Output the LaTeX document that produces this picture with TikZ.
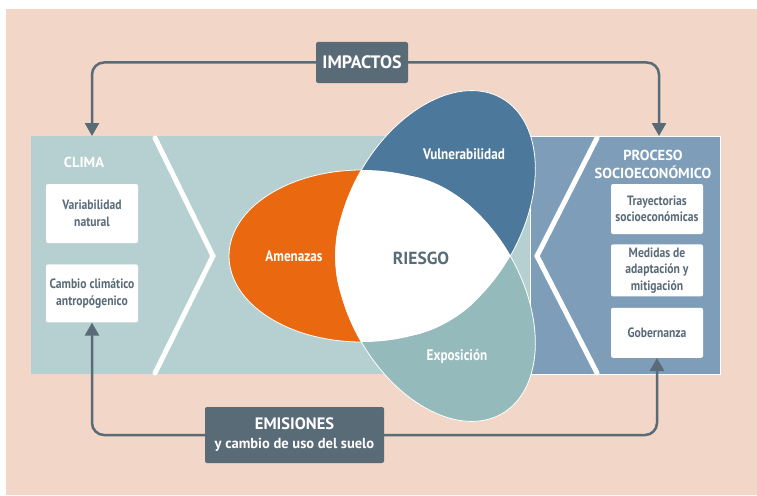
\documentclass[tikz,border=0pt]{standalone}
\usepackage{fontspec}
\setmainfont{PT Sans}
\newfontfamily\narrowfont{PT Sans}[FakeStretch=0.86]
\usetikzlibrary{positioning, arrows.meta}
\definecolor{rosa}{RGB}{242,214,200}
\definecolor{verdeclaro}{RGB}{182,208,210}
\definecolor{azulacero}{RGB}{125,157,184}
\definecolor{naranja}{RGB}{233,104,16}
\definecolor{azuloscuro}{RGB}{76,121,155}
\definecolor{verdeazul}{RGB}{148,186,188}
\definecolor{pizarra}{RGB}{90,107,120}

\begin{document}
\begin{tikzpicture}[x=1pt, y=-1pt,
    caja/.style={fill=white, rounded corners=2pt, minimum width=92pt, align=center, text=pizarra, inner sep=2pt, font=\narrowfont\bfseries\fontsize{13.5}{16.5}\selectfont},
    rotulo/.style={fill=pizarra, rounded corners=2pt, align=center, text=white, inner sep=2pt},
    flujo/.style={draw=pizarra, line width=2.5pt, rounded corners=12pt, -{Triangle[width=14pt,length=13pt]}},
    titulo/.style={text=white, align=center, font=\bfseries\fontsize{14.5}{18}\selectfont},
    hoja/.style={text=white, font=\narrowfont\bfseries\fontsize{15.3}{17}\selectfont}]
\useasboundingbox (0,0) rectangle (757,495);
\fill[rosa] (6,9) rectangle (757,495);

% paneles
\fill[verdeclaro] (31,136) rectangle (532,374);
\filldraw[fill=azulacero, draw=white, line width=0.8pt] (530,136) rectangle (720,374);
\draw[white, line width=5pt, line cap=round] (155,138) -- (213,256) -- (155,373);
\draw[white, line width=5pt, line cap=round] (597,138) -- (537,256) -- (597,373);

% petalos
\coordinate (centro) at (411,256);
\filldraw[fill=naranja, draw=white, line width=0.8pt] (362,256) ellipse [x radius=133, y radius=86];
\filldraw[fill=azuloscuro, draw=white, line width=0.8pt, rotate around={-120:(centro)}] (362,256) ellipse [x radius=133, y radius=86];
\filldraw[fill=verdeazul, draw=white, line width=0.8pt, rotate around={120:(centro)}] (362,256) ellipse [x radius=133, y radius=86];
\begin{scope}
  \clip (362,256) ellipse [x radius=133, y radius=86];
  \fill[white, rotate around={-120:(centro)}] (362,256) ellipse [x radius=133, y radius=86];
  \fill[white, rotate around={120:(centro)}] (362,256) ellipse [x radius=133, y radius=86];
\end{scope}
\begin{scope}
  \clip[rotate around={-120:(centro)}] (362,256) ellipse [x radius=133, y radius=86];
  \fill[white, rotate around={120:(centro)}] (362,256) ellipse [x radius=133, y radius=86];
\end{scope}

\node (amenazas) at (294,256) [hoja] {Amenazas};
\node (vulnerab) at (464,154) [hoja] {Vulnerabilidad};
\node (exposic) at (457,357) [hoja] {Exposición};
\node (riesgo) at (421,258) [text=pizarra, font=\bfseries\fontsize{17.5}{20}\selectfont] {RIESGO};

% clima
\node (clima) at (84,162) [titulo] {CLIMA};
\node (variab) at (92,213.5) [caja, minimum height=59pt] {Variabilidad\\natural};
\node (cambio) [caja, minimum height=58pt, below=21pt of variab] {Cambio climático\\antropógenico};

% proceso socioeconomico
\node (proceso) at (653,164) [titulo] {PROCESO\\SOCIOECONÓMICO};
\node (trayect) at (657,209) [caja, minimum height=50pt] {Trayectorias\\socioeconómicas};
\node (medidas) [caja, minimum height=52pt, below=10pt of trayect] {Medidas de\\adaptación y\\mitigación};
\node (gobern) [caja, minimum height=50pt, below=11pt of medidas] {Gobernanza};

% impactos y emisiones
\node (impactos) at (362,62.5) [rotulo, minimum width=92pt, minimum height=41pt, font=\bfseries\fontsize{18}{20}\selectfont] {IMPACTOS};
\node (emisiones) at (294.5,435) [rotulo, minimum width=179pt, minimum height=56pt, font=\bfseries\fontsize{14.5}{19}\selectfont] {{\fontsize{16.5}{19}\selectfont EMISIONES}\\y cambio de uso del suelo};

\coordinate (entradaclima) at (92,136);
\coordinate (entradasocio) at (659,136);
\draw[flujo] (impactos.west) -| (entradaclima);
\draw[flujo] (impactos.east) -| (entradasocio);
\draw[flujo] (emisiones.west) -| (cambio.south);
\draw[flujo] (emisiones.east) -| (gobern.south);

\end{tikzpicture}
\end{document}
